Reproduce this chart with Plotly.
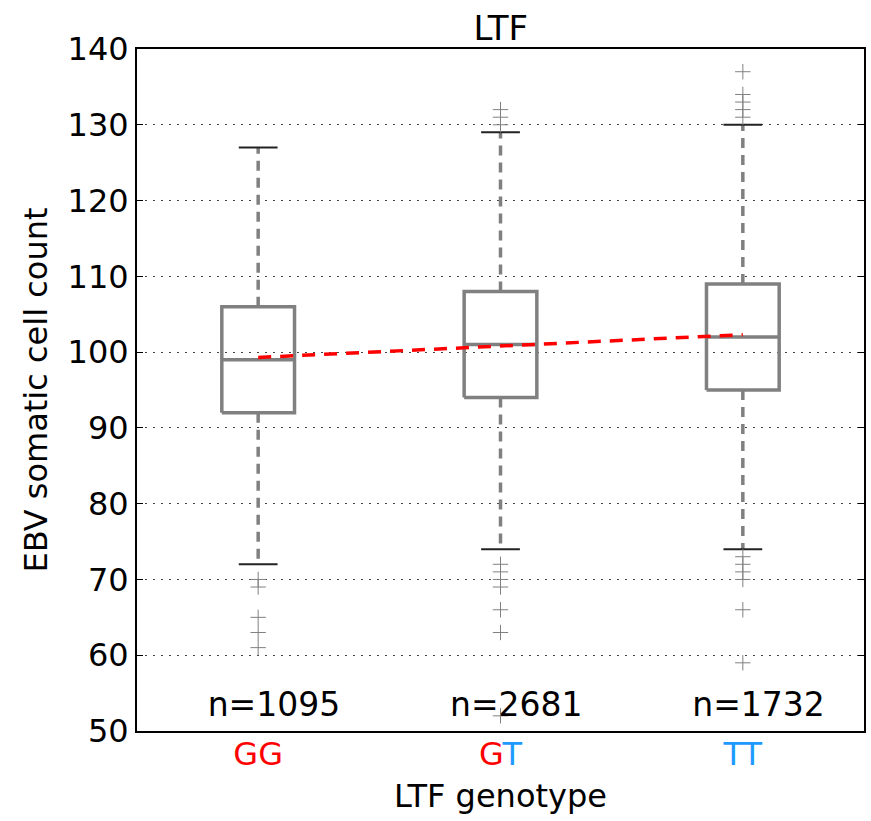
import plotly.graph_objects as go

genotypes = ["GG", "GT", "TT"]
positions = [1, 2, 3]
counts = [1095, 2681, 1732]
q1 = [92, 94, 95]
median = [99, 101, 102]
q3 = [106, 108, 109]
whisker_low = [72, 74, 74]
whisker_high = [127, 129, 130]
outliers = [
    [70, 69, 65, 63, 61],
    [132, 131, 130, 72, 71, 70, 69, 66, 63, 52],
    [137, 134, 133, 132, 131, 73, 72, 71, 70, 66, 59],
]
trend = [99.3, 100.8, 102.3]

RED = "#ff0000"
BLUE = "#1e9aff"
GRAY = "#808080"
FONT = "DejaVu Sans"
FS = 32

tick_text = [
    f'<span style="color:{RED}">G</span><span style="color:{RED}">G</span>',
    f'<span style="color:{RED}">G</span><span style="color:{BLUE}">T</span>',
    f'<span style="color:{BLUE}">T</span><span style="color:{BLUE}">T</span>',
]

box_half = 0.15
cap_half = 0.08
label_shift = 0.065

fig = go.Figure()
for i, p in enumerate(positions):
    # whiskers (dashed)
    fig.add_trace(go.Scatter(x=[p, p], y=[q3[i], whisker_high[i]], mode="lines",
                             line=dict(color=GRAY, width=3.5, dash="10px,7px"), showlegend=False, hoverinfo="skip"))
    fig.add_trace(go.Scatter(x=[p, p], y=[q1[i], whisker_low[i]], mode="lines",
                             line=dict(color=GRAY, width=3.5, dash="10px,7px"), showlegend=False, hoverinfo="skip"))
    # caps
    for w in (whisker_low[i], whisker_high[i]):
        fig.add_trace(go.Scatter(x=[p - cap_half, p + cap_half], y=[w, w], mode="lines",
                                 line=dict(color="#222222", width=2), showlegend=False, hoverinfo="skip"))
    # box
    fig.add_trace(go.Scatter(
        x=[p - box_half, p + box_half, p + box_half, p - box_half, p - box_half],
        y=[q1[i], q1[i], q3[i], q3[i], q1[i]], mode="lines",
        line=dict(color=GRAY, width=3.5), showlegend=False, hoverinfo="skip"))
    # median
    fig.add_trace(go.Scatter(x=[p - box_half, p + box_half], y=[median[i], median[i]], mode="lines",
                             line=dict(color=GRAY, width=3.5), showlegend=False, hoverinfo="skip"))
    # outliers
    fig.add_trace(go.Scatter(x=[p] * len(outliers[i]), y=outliers[i], mode="markers",
                             marker=dict(symbol="cross-thin", size=11, line=dict(color=GRAY, width=1)),
                             showlegend=False, hoverinfo="skip"))

# trend line
fig.add_trace(go.Scatter(x=positions, y=trend, mode="lines",
                         line=dict(color=RED, width=3.5, dash="13px,9px"), showlegend=False, hoverinfo="skip"))

# n labels
fig.add_trace(go.Scatter(x=[p + label_shift for p in positions], y=[53.1] * 3, mode="text",
                         text=[f"n={c}" for c in counts],
                         textfont=dict(family=FONT, size=33, color="black"),
                         showlegend=False, hoverinfo="skip"))

fig.update_layout(
    width=871, height=821,
    margin=dict(l=137, r=5, t=49, b=90),
    paper_bgcolor="white", plot_bgcolor="white",
    font=dict(family=FONT, size=FS, color="black"),
    title=dict(text="LTF", x=0.575, xanchor="center", y=0.966, yanchor="middle",
               font=dict(family=FONT, size=34, color="black")),
    xaxis=dict(range=[0.5, 3.5], tickvals=positions, ticktext=tick_text,
               showgrid=False, zeroline=False, showline=True, linecolor="black", linewidth=2,
               mirror=True, ticks="", tickfont=dict(family=FONT, size=FS), ticklabelstandoff=-6,
               title=dict(text="LTF genotype", font=dict(family=FONT, size=FS), standoff=12)),
    yaxis=dict(range=[50, 140], dtick=10, showgrid=True, gridcolor="#444444", gridwidth=1, griddash="2px,6px",
               zeroline=False, showline=True, linecolor="black", linewidth=2, mirror="allticks",
               ticks="inside", ticklen=6, tickcolor="black", tickfont=dict(family=FONT, size=FS),
               title=dict(text="EBV somatic cell count", font=dict(family=FONT, size=FS), standoff=10)),
)

fig.write_html("out.html")
